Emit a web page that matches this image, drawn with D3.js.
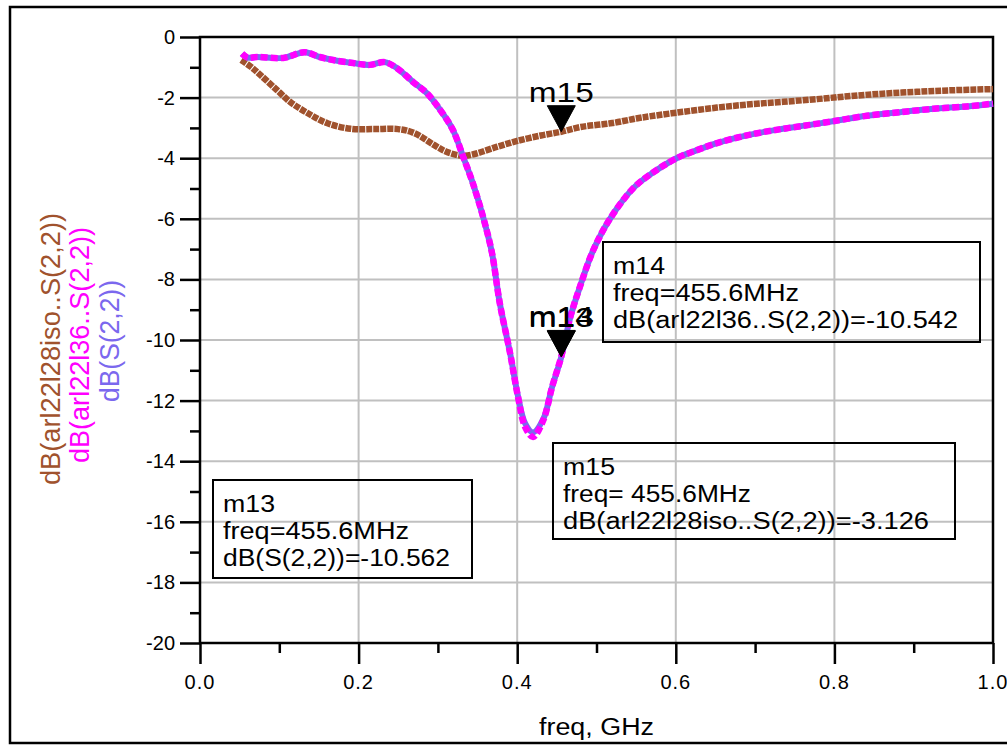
<!DOCTYPE html>
<html><head><meta charset="utf-8">
<script src="https://cdn.jsdelivr.net/npm/d3@7"></script>
<style>
html,body{margin:0;padding:0;background:#fff;}
text{font-family:"Liberation Sans",Arial,sans-serif;}
</style></head>
<body><svg id="c" width="1007" height="745"></svg>
<script>
// ---------- data ----------
const brownFreq = [0.052,0.065,0.076,0.097,0.114,0.135,0.16,0.19,0.22,0.25,0.27,0.295,0.31,0.33,0.345,0.375,0.40,0.43,0.4556,0.48,0.52,0.55,0.567,0.609,0.652,0.694,0.735,0.778,0.82,0.861,0.904,0.946,1.0];
const brownDb   = [-0.76,-1.0,-1.25,-1.75,-2.15,-2.5,-2.84,-3.03,-3.04,-3.04,-3.17,-3.56,-3.78,-3.92,-3.87,-3.62,-3.43,-3.25,-3.126,-2.97,-2.84,-2.69,-2.62,-2.47,-2.33,-2.22,-2.14,-2.05,-1.95,-1.87,-1.81,-1.76,-1.72];

const magFreq = [0.053,0.06,0.072,0.105,0.132,0.151,0.168,0.193,0.214,0.233,0.248,0.269,0.286,0.303,0.319,0.332,0.344,0.357,0.368,0.378,0.391,0.401,0.41,0.42,0.433,0.444,0.4556,0.467,0.479,0.496,0.517,0.546,0.567,0.601,0.622,0.652,0.694,0.735,0.769,0.798,0.841,0.883,0.925,0.967,1.0];
const magDb   = [-0.55,-0.68,-0.66,-0.69,-0.50,-0.66,-0.76,-0.86,-0.92,-0.83,-1.02,-1.49,-1.85,-2.41,-3.07,-3.96,-4.82,-5.94,-7.1,-8.78,-10.43,-11.88,-12.87,-13.2,-12.64,-11.55,-10.542,-9.24,-8.25,-7.03,-6.0,-5.0,-4.55,-4.0,-3.78,-3.5,-3.22,-3.03,-2.9,-2.78,-2.6,-2.48,-2.37,-2.29,-2.2];

const blueFreq = [0.053,0.06,0.072,0.105,0.132,0.151,0.168,0.193,0.214,0.233,0.248,0.269,0.286,0.303,0.319,0.332,0.344,0.357,0.368,0.378,0.391,0.401,0.41,0.42,0.433,0.444,0.4556,0.467,0.479,0.496,0.517,0.546,0.567,0.601,0.622,0.652,0.694,0.735,0.769,0.798,0.841,0.883,0.925,0.967,1.0];
const blueDb   = [-0.55,-0.68,-0.66,-0.69,-0.50,-0.66,-0.76,-0.86,-0.92,-0.83,-1.02,-1.49,-1.85,-2.41,-3.07,-3.96,-4.82,-5.94,-7.1,-8.78,-10.43,-11.85,-12.75,-13.05,-12.6,-11.55,-10.562,-9.25,-8.25,-7.03,-6.0,-5.0,-4.55,-4.0,-3.78,-3.5,-3.22,-3.03,-2.9,-2.78,-2.6,-2.48,-2.37,-2.29,-2.2];

const xTicks = [0.0,0.2,0.4,0.6,0.8,1.0];
const xTickLabels = ["0.0","0.2","0.4","0.6","0.8","1.0"];
const yTicks = [0,-2,-4,-6,-8,-10,-12,-14,-16,-18,-20];
const yTickLabels = ["0","-2","-4","-6","-8","-10","-12","-14","-16","-18","-20"];

const markerNames = ["m15","m14","m13"];
const markerFreq  = [0.4556,0.4556,0.4556];
const markerDb    = [-3.126,-10.542,-10.562];
const markerTraces= ["dB(arl22l28iso..S(2,2))","dB(arl22l36..S(2,2))","dB(S(2,2))"];
const freqLabels  = ["freq= 455.6MHz","freq=455.6MHz","freq=455.6MHz"];
const valueLabels = ["-3.126","-10.542","-10.562"];

const axisTitles = ["dB(arl22l28iso..S(2,2))","dB(arl22l36..S(2,2))","dB(S(2,2))"];
const colors = {brown:"#A0522D", magenta:"#FF00FF", blue:"#7B68EE"};

// ---------- layout ----------
const L=200,R=993,T=37,B=643;
const svg = d3.select("#c");
const x = d3.scaleLinear().domain([0,1]).range([L,R]);
const y = d3.scaleLinear().domain([-20,0]).range([B,T]);

// outer frame
svg.append("rect").attr("x",10).attr("y",7).attr("width",1010).attr("height",736)
  .attr("fill","none").attr("stroke","#000").attr("stroke-width",2.5);

// grid
const grid = svg.append("g");
grid.selectAll("line.gx").data(xTicks.slice(1,-1)).join("line")
  .attr("x1",d=>x(d)).attr("x2",d=>x(d)).attr("y1",T).attr("y2",B)
  .attr("stroke","#c0c0c0").attr("stroke-width",2);
grid.selectAll("line.gy").data(yTicks.slice(1,-1)).join("line")
  .attr("y1",d=>y(d)).attr("y2",d=>y(d)).attr("x1",L).attr("x2",R)
  .attr("stroke","#c0c0c0").attr("stroke-width",2);

// axes via d3
const xAxis = d3.axisBottom(x).tickValues(d3.range(0,1.0001,0.1)).tickSize(0).tickFormat("");
const gx = svg.append("g").attr("transform",`translate(0,${B})`).call(xAxis);
gx.select(".domain").remove();
gx.selectAll(".tick line").attr("stroke","#000").attr("stroke-width",2.5)
  .attr("y2",(d,i)=> i%2===0 ? 21 : 10);
svg.append("g").selectAll("text").data(xTicks).join("text")
  .attr("x",d=>x(d)).attr("y",B+46).attr("text-anchor","middle")
  .attr("font-size",20).attr("letter-spacing",1).attr("fill","#000")
  .text((d,i)=>xTickLabels[i]);

const yAxis = d3.axisLeft(y).tickValues(d3.range(-20,0.001,1)).tickSize(0).tickFormat("");
const gy = svg.append("g").attr("transform",`translate(${L},0)`).call(yAxis);
gy.select(".domain").remove();
gy.selectAll(".tick line").attr("stroke","#000").attr("stroke-width",2.5)
  .attr("x2",d=> (Math.round(d)%2===0) ? -20 : -10);
svg.append("g").selectAll("text").data(yTicks).join("text")
  .attr("x",L-25).attr("y",d=>y(d)+7).attr("text-anchor","end")
  .attr("font-size",20).attr("fill","#000")
  .text((d,i)=>yTickLabels[i]);

// plot box
svg.append("rect").attr("x",L).attr("y",T).attr("width",R-L).attr("height",B-T)
  .attr("fill","none").attr("stroke","#000").attr("stroke-width",2.5);

// x-axis title
svg.append("text").attr("x",(L+R)/2).attr("y",735).attr("text-anchor","middle")
  .attr("font-size",23).attr("textLength",115).attr("lengthAdjust","spacingAndGlyphs")
  .text("freq, GHz");

// y-axis titles
const yTitleColors=[colors.brown,colors.magenta,colors.blue];
const yTitleX=[60,89,119], yTitleY=[349,345,341], yTitleLen=[272,236,122];
axisTitles.forEach((t,i)=>{
  svg.append("text").attr("transform",`translate(${yTitleX[i]},${yTitleY[i]}) rotate(-90)`)
    .attr("text-anchor","middle").attr("font-size",28).attr("fill",yTitleColors[i])
    .attr("textLength",yTitleLen[i]).attr("lengthAdjust","spacingAndGlyphs").text(t);
});

// curves
const line = d3.line().x(d=>x(d[0])).y(d=>y(d[1])).curve(d3.curveCatmullRom.alpha(0.5));
const plotArea = svg.append("g");
plotArea.append("path").datum(d3.zip(brownFreq,brownDb)).attr("d",line)
  .attr("fill","none").attr("stroke",colors.brown).attr("stroke-width",6.5)
  .attr("stroke-dasharray","6,1");
plotArea.append("path").datum(d3.zip(blueFreq,blueDb)).attr("d",line)
  .attr("fill","none").attr("stroke",colors.blue).attr("stroke-width",6);
plotArea.append("path").datum(d3.zip(magFreq,magDb)).attr("d",line)
  .attr("fill","none").attr("stroke",colors.magenta).attr("stroke-width",6.5)
  .attr("stroke-dasharray","7,3");

// markers (triangles + labels)
markerNames.forEach((n,i)=>{
  const px=x(markerFreq[i]), py=y(markerDb[i]);
  svg.append("path").attr("d",`M${px},${py} L${px-14},${py-26} L${px+14},${py-26} Z`)
    .attr("fill","#000").attr("stroke","#000").attr("stroke-width",1);
  svg.append("text").attr("x",px).attr("y",py-30).attr("text-anchor","middle")
    .attr("font-size",28).attr("textLength",65).attr("lengthAdjust","spacingAndGlyphs")
    .attr("fill","#000").text(n);
});

// marker readout boxes
const boxX=[553,603,213], boxY=[443,242,480], boxW=[402,377,259], boxH=[96,100,98];
const valLen=[366,345,227], freqLen=[188,186,186];
markerNames.forEach((n,i)=>{
  const g = svg.append("g");
  g.append("rect").attr("x",boxX[i]).attr("y",boxY[i]).attr("width",boxW[i]).attr("height",boxH[i])
    .attr("fill","none").attr("stroke","#000").attr("stroke-width",2);
  const tx=boxX[i]+10;
  g.append("text").attr("x",tx).attr("y",boxY[i]+32).attr("font-size",23)
    .attr("textLength",52).attr("lengthAdjust","spacingAndGlyphs").text(n);
  g.append("text").attr("x",tx).attr("y",boxY[i]+59).attr("font-size",23)
    .attr("textLength",freqLen[i]).attr("lengthAdjust","spacingAndGlyphs").text(freqLabels[i]);
  g.append("text").attr("x",tx).attr("y",boxY[i]+86).attr("font-size",23)
    .attr("textLength",valLen[i]).attr("lengthAdjust","spacingAndGlyphs")
    .text(markerTraces[i]+"="+valueLabels[i]);
});
</script></body></html>
